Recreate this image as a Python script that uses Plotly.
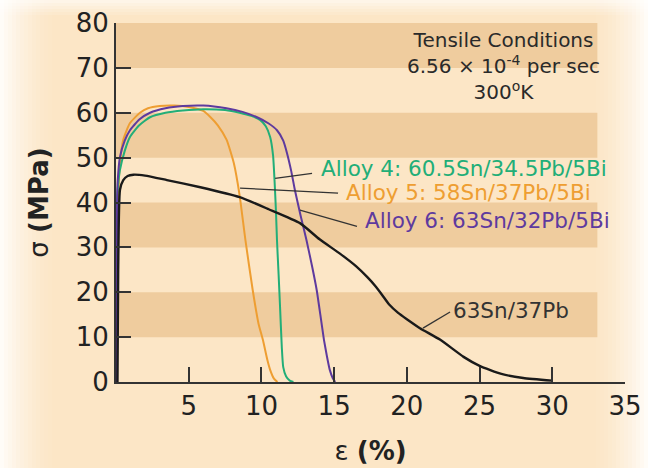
import plotly.graph_objects as go

# ---------------- data ----------------
strain_alloy4 = [0.05, 0.06, 0.1, 0.27, 0.6, 0.96, 1.6, 2.34, 3.4, 4.6, 6.0, 7.5, 8.5, 9.3, 9.9, 10.3, 10.6, 10.8, 10.9, 11.0, 11.07, 11.18, 11.28, 11.4, 11.5, 11.7, 11.95, 12.2]
stress_alloy4 = [0, 38, 42, 47.2, 51.5, 54.6, 57.2, 59.0, 60.0, 60.5, 60.8, 60.6, 60.0, 59.3, 58.4, 57.0, 54.6, 50.5, 45.0, 38.0, 31.6, 24.0, 16.8, 7.8, 3.3, 1.2, 0.3, 0]

strain_alloy5 = [0.05, 0.1, 0.2, 0.27, 0.5, 0.96, 1.65, 2.2, 3.0, 4.0, 5.0, 6.0, 6.5, 7.0, 7.6, 8.1, 8.5, 8.9, 9.4, 9.8, 10.1, 10.4, 10.6, 10.85, 11.1]
stress_alloy5 = [0, 30, 45, 48.8, 54.0, 57.7, 60.0, 61.0, 61.5, 61.6, 61.3, 60.4, 59.0, 57.2, 54.0, 48.8, 41.6, 31.6, 20.5, 13.0, 9.4, 5.0, 2.7, 0.8, 0]

strain_alloy6 = [0.05, 0.07, 0.12, 0.27, 0.6, 0.96, 1.6, 2.34, 3.4, 4.6, 6.0, 7.6, 8.7, 9.7, 10.5, 11.07, 11.5, 11.76, 12.05, 12.3, 12.7, 13.1, 13.5, 13.8, 14.05, 14.3, 14.5, 14.7, 14.9, 15.07]
stress_alloy6 = [0, 40, 45, 50.1, 53.8, 56.1, 58.5, 60.0, 61.0, 61.5, 61.6, 61.0, 60.2, 59.0, 57.6, 56.1, 53.8, 51.0, 47.0, 42.8, 37.0, 31.6, 25.5, 20.5, 15.0, 9.4, 5.8, 2.7, 0.9, 0]

strain_eutectic = [0.1, 0.15, 0.27, 0.5, 0.8, 1.2, 2.0, 3.5, 5.8, 8.5, 10.5, 12.65, 14.0, 15.4, 16.5, 17.3, 17.8, 18.3, 18.8, 19.4, 20.0, 20.9, 22.3, 23.9, 25.0, 26.5, 28.0, 30.0]
stress_eutectic = [0, 25, 42.8, 45.0, 45.9, 46.2, 46.0, 45.0, 43.4, 41.2, 38.5, 35.4, 31.8, 28.6, 25.8, 23.3, 21.5, 19.4, 17.2, 15.4, 14.0, 12.0, 9.4, 5.6, 3.6, 1.8, 0.9, 0.3]

x_ticks = [5, 10, 15, 20, 25, 30, 35]
y_ticks = [0, 10, 20, 30, 40, 50, 60, 70, 80]

series_names = ["Alloy 4: 60.5Sn/34.5Pb/5Bi", "Alloy 5: 58Sn/37Pb/5Bi",
                "Alloy 6: 63Sn/32Pb/5Bi", "63Sn/37Pb"]
series_colors = ["#22AE78", "#EE9E32", "#5E3A9E", "#1A1A1A"]

# ---------------- layout constants ----------------
W, H = 648, 468
ML, MR, MT, MB = 116, 23, 23, 86
PW, PH = W - ML - MR, H - MT - MB
LIGHT = "#FCE6C6"
DARK = "#EFCC9E"
FONT = "DejaVu Sans, Verdana, sans-serif"


def px_x(p):
    return (p - ML) / PW


def px_y(p):
    return (H - MB - p) / PH


fig = go.Figure()

for sx, sy, name, col, w in [
    (strain_alloy5, stress_alloy5, series_names[1], series_colors[1], 2),
    (strain_alloy4, stress_alloy4, series_names[0], series_colors[0], 2),
    (strain_alloy6, stress_alloy6, series_names[2], series_colors[2], 2),
    (strain_eutectic, stress_eutectic, series_names[3], series_colors[3], 2.4),
]:
    fig.add_trace(go.Scatter(x=sx, y=sy, mode="lines", name=name,
                             line=dict(color=col, width=w, shape="spline", smoothing=0.5),
                             hoverinfo="skip"))

shapes = []
# edge fades (white vignette)
n = 14
for i in range(n):
    op = 0.85 * (1 - i / n) ** 1.6
    shapes.append(dict(type="rect", xref="paper", yref="paper", layer="below",
                       x0=px_x(i * 4), x1=px_x(i * 4 + 4), y0=px_y(H), y1=px_y(0),
                       fillcolor="white", opacity=op, line_width=0))
for i in range(n):
    op = 0.85 * ((i + 1) / n) ** 1.6
    shapes.append(dict(type="rect", xref="paper", yref="paper", layer="below",
                       x0=px_x(592 + i * 4), x1=px_x(596 + i * 4), y0=px_y(H), y1=px_y(0),
                       fillcolor="white", opacity=op, line_width=0))
for i in range(5):
    op = 0.6 * (1 - i / 5)
    shapes.append(dict(type="rect", xref="paper", yref="paper", layer="below",
                       x0=px_x(0), x1=px_x(W), y0=px_y(i * 3 + 3), y1=px_y(i * 3),
                       fillcolor="white", opacity=op, line_width=0))

# horizontal bands
for lo in [70, 50, 30, 10]:
    shapes.append(dict(type="rect", xref="x", yref="y", layer="below",
                       x0=0, x1=33.1, y0=lo, y1=lo + 10,
                       fillcolor=DARK, line_width=0))

# leader lines (data coordinates)
leaders = [
    (10.94, 45.4, 13.48, 46.5),
    (8.53, 43.2, 15.27, 42.1),
    (12.65, 38.3, 16.57, 34.7),
    (21.11, 12.0, 22.97, 15.6),
]
for x0, y0, x1, y1 in leaders:
    shapes.append(dict(type="line", xref="x", yref="y", x0=x0, y0=y0, x1=x1, y1=y1,
                       line=dict(color="#333333", width=1.3)))

annotations = []
label_pos = [(13.95, 47.6), (15.65, 42.3), (17.0, 36.1), (23.05, 16.0)]
label_colors = [series_colors[0], series_colors[1], series_colors[2], "#333333"]
for (lx, ly), txt, col in zip(label_pos, series_names, label_colors):
    annotations.append(dict(x=lx, y=ly, xref="x", yref="y", text=txt, showarrow=False,
                            xanchor="left", yanchor="middle",
                            font=dict(family=FONT, size=21.5, color=col)))

cond_text = "Tensile Conditions<br>6.56 × 10<sup>-4</sup> per sec<br>300<sup>o</sup>K"
annotations.append(dict(x=26.65, y=70.4, xref="x", yref="y", text=cond_text, showarrow=False,
                        xanchor="center", yanchor="middle", align="center",
                        font=dict(family=FONT, size=20, color="#2a2a2a")))

fig.update_layout(
    width=W, height=H,
    margin=dict(l=ML, r=MR, t=MT, b=MB, pad=0, autoexpand=False),
    paper_bgcolor=LIGHT, plot_bgcolor="rgba(0,0,0,0)",
    showlegend=False,
    shapes=shapes, annotations=annotations,
    font=dict(family=FONT, color="#222222"),
)
fig.update_xaxes(range=[0, 35], tickvals=x_ticks, ticks="inside", ticklen=15, tickwidth=2,
                 tickcolor="#333333", showline=True, linecolor="#333333", linewidth=2,
                 showgrid=False, zeroline=False, automargin=False,
                 tickfont=dict(size=26, color="#222222"),
                 title=dict(text="ε <b>(%)</b>", font=dict(size=26, color="#222222"), standoff=22))
fig.update_yaxes(range=[0, 80], tickvals=y_ticks, ticks="inside", ticklen=15, tickwidth=2,
                 tickcolor="#333333", showline=True, linecolor="#333333", linewidth=2,
                 showgrid=False, zeroline=False, automargin=False,
                 tickfont=dict(size=26, color="#222222"),
                 title=dict(text="σ <b>(MPa)</b>", font=dict(size=26, color="#222222"), standoff=20))

fig.write_html("out.html")
